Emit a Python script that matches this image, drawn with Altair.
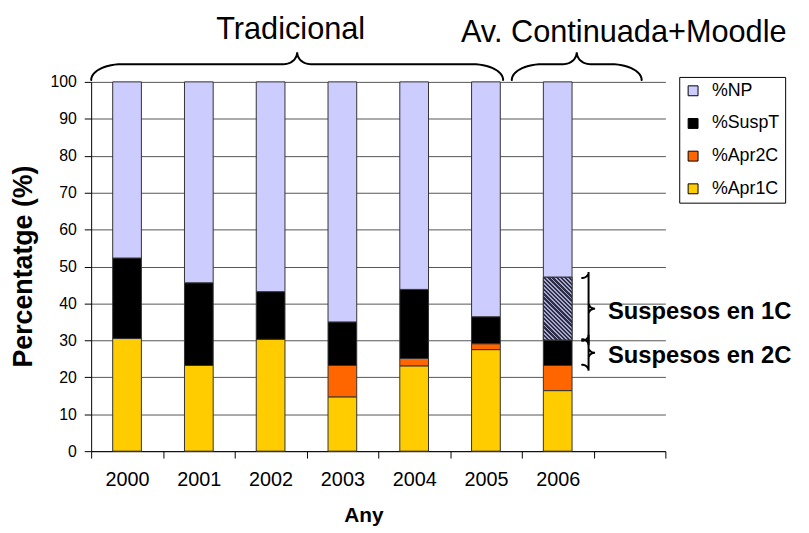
import altair as alt
import numpy as np
import pandas as pd

# ---------------- data ----------------
years = ["2000", "2001", "2002", "2003", "2004", "2005", "2006"]
slots = years + [" "]          # the axis has an empty 8th slot
apr1c = [30.5, 23.2, 30.3, 14.7, 23.1, 27.5, 16.4]
apr2c = [0.0, 0.0, 0.0, 8.5, 2.0, 1.6, 6.8]
suspt = [21.8, 22.4, 12.9, 11.8, 18.7, 7.3, 6.9]
susp1c = [0.0, 0.0, 0.0, 0.0, 0.0, 0.0, 17.0]   # hatched part (2006 only)
np_ = [47.7, 54.4, 56.8, 65.0, 56.2, 63.6, 52.9]

series_names = ["%Apr1C", "%Apr2C", "%SuspT", "Susp1C", "%NP"]
series_vals = [apr1c, apr2c, suspt, susp1c, np_]
legend_order = ["%NP", "%SuspT", "%Apr2C", "%Apr1C"]
colors = {"%NP": "#CCCCFF", "%SuspT": "#000000", "%Apr2C": "#FF6600",
          "%Apr1C": "#FFCC00", "Susp1C": "#44445E"}

rows = []
for k, (name, vals) in enumerate(zip(series_names, series_vals)):
    for y, v in zip(years, vals):
        rows.append({"year": y, "series": name, "value": v, "ord": k})
df = pd.DataFrame(rows)

FONT = "Liberation Sans"
yscale = alt.Scale(domain=[0, 100], nice=False, zero=True)
xband = alt.Scale(domain=slots, paddingInner=0, paddingOuter=0)
uscale = alt.Scale(domain=[0, 8], nice=False, zero=False)

x_axis = alt.Axis(title="Any", tickBand="extent", labelAngle=0,
                  labelFontSize=20, labelColor="#000", labelFont=FONT,
                  labelPadding=12, tickSize=7, tickColor="#000",
                  domainColor="#000", titleFontSize=21,
                  titleFontWeight="bold", titleFont=FONT,
                  titleColor="#000", titleX=275, titleY=65,
                  titleBaseline="middle", grid=False)
y_axis = alt.Axis(title="Percentatge (%)", values=list(range(0, 101, 10)),
                  labelFontSize=16, labelColor="#000", labelFont=FONT,
                  labelPadding=8, tickSize=7, tickColor="#000",
                  domainColor="#000", grid=True, gridColor="#555555",
                  gridWidth=1, titleFontSize=27, titleFontWeight="bold",
                  titleFont=FONT, titleColor="#000", titleX=-68,
                  titleY=186, titleAngle=270, titleBaseline="middle",
                  titleAlign="center")

base = (alt.Chart(df)
        .transform_filter("datum.value > 0")
        .transform_stack(stack="value", groupby=["year"],
                         sort=[alt.SortField("ord", order="ascending")],
                         as_=["y0", "y1"]))

bars = base.mark_bar(width=alt.RelativeBandSize(0.4), stroke="#333333",
                     strokeWidth=1).encode(
    x=alt.X("year:N", scale=xband, sort=slots, axis=x_axis),
    y=alt.Y("y0:Q", scale=yscale, axis=y_axis),
    y2="y1:Q",
    color=alt.Color("series:N",
                    scale=alt.Scale(domain=list(colors.keys()),
                                    range=list(colors.values())),
                    legend=alt.Legend(values=legend_order, title=None,
                                      orient="none", legendX=594, legendY=-5,
                                      strokeColor="#000", fillColor="#fff",
                                      padding=5, rowPadding=15,
                                      symbolType="square", symbolSize=100,
                                      symbolStrokeColor="#000",
                                      symbolStrokeWidth=1, labelFontSize=18,
                                      labelFont=FONT, labelColor="#000",
                                      labelOffset=10)),
)

# hatched overlay for the 2006 "Susp1C" segment
dark, light = "#2E2E48", "#A8A8CC"
period = 0.025
stops = []
t = 0.0
while t < 1.0 - 1e-9:
    m = min(t + 0.55 * period, 1.0)
    e = min(t + period, 1.0)
    stops += [alt.GradientStop(color=dark, offset=round(t, 4)),
              alt.GradientStop(color=dark, offset=round(m, 4)),
              alt.GradientStop(color=light, offset=round(m, 4)),
              alt.GradientStop(color=light, offset=round(e, 4))]
    t += period
ratio = (17.0 * 3.73) / (0.4 * 72.5)
hatch_fill = alt.LinearGradient(gradient="linear", stops=stops,
                                x1=0, y1=1, x2=1, y2=1 - ratio)

hatch = base.transform_filter("datum.series == 'Susp1C'").mark_bar(
    width=alt.RelativeBandSize(0.4), fill=hatch_fill, stroke="#333333",
    strokeWidth=1).encode(
    x=alt.X("year:N", scale=xband, sort=slots, axis=x_axis),
    y=alt.Y("y0:Q", scale=yscale, axis=y_axis),
    y2="y1:Q",
)

# ---------------- braces (annotation shapes) ----------------
def brace(a0, a1, base_, arm, tip, r_end, r_tip, n=14):
    mid = (a0 + a1) / 2
    th = np.linspace(0, np.pi / 2, n)
    pts = [(a0 + r_end * (1 - np.cos(t)), base_ + (arm - base_) * np.sin(t)) for t in th]
    pts += [(mid - r_tip + r_tip * np.sin(t), tip - (tip - arm) * np.cos(t)) for t in th]
    right = [(2 * mid - a, b) for (a, b) in reversed(pts)]
    return pts + right

brace_rows = []
# top braces: spans in slot units
top_spans = [("Tradicional", 0.0, 5.74), ("Av. Continuada+Moodle", 5.86, 7.67)]
for g, a0, a1 in top_spans:
    for k, (u, v) in enumerate(brace(a0, a1, 100.5, 104.8, 108.0, 0.43, 0.19)):
        brace_rows.append({"grp": g, "k": k, "u": u, "v": v})

# side braces for 2006 suspended segments
lo2 = apr1c[6] + apr2c[6]
lo1 = lo2 + suspt[6]
hi1 = lo1 + susp1c[6]
side_spans = [("Suspesos en 1C", lo1, hi1), ("Suspesos en 2C", lo2, lo1)]
for g, b0, b1 in side_spans:
    for k, (v, u) in enumerate(brace(b1 - 0.2, b0 + 0.2, 6.84, 6.93, 7.02, 1.6, 1.5)):
        brace_rows.append({"grp": g, "k": k, "u": u, "v": v})
brace_df = pd.DataFrame(brace_rows)

braces = alt.Chart(brace_df).mark_line(color="#000", strokeWidth=2,
                                       clip=False, strokeCap="round").encode(
    x=alt.X("u:Q", scale=uscale, axis=None),
    y=alt.Y("v:Q", scale=yscale, axis=y_axis),
    detail="grp:N",
    order="k:Q",
)

top_text_df = pd.DataFrame({"label": ["Tradicional", "Av. Continuada+Moodle"],
                            "u": [2.78, 7.42], "v": [113.9, 113.1]})
top_text = alt.Chart(top_text_df).mark_text(
    font=FONT, fontSize=31, color="#000", align="center", baseline="middle",
    clip=False).encode(
    x=alt.X("u:Q", scale=uscale, axis=None),
    y=alt.Y("v:Q", scale=yscale, axis=y_axis),
    text="label:N",
)

side_text_df = pd.DataFrame({"label": ["Suspesos en 1C", "Suspesos en 2C"],
                             "u": [7.2, 7.2],
                             "v": [(lo1 + hi1) / 2 - 1.0, (lo2 + lo1) / 2 - 1.0]})
side_text = alt.Chart(side_text_df).mark_text(
    font=FONT, fontSize=24, fontWeight="bold", color="#000", align="left",
    baseline="middle", clip=False).encode(
    x=alt.X("u:Q", scale=uscale, axis=None),
    y=alt.Y("v:Q", scale=yscale, axis=y_axis),
    text="label:N",
)

chart = alt.layer(alt.layer(bars, hatch), braces, top_text, side_text).resolve_scale(
    x="independent"
).properties(
    width=580, height=373,
    padding={"left": 84, "top": 72, "right": 137, "bottom": 76},
    autosize=alt.AutoSizeParams(type="none"),
    background="white",
).configure_view(stroke=None)

chart.save("out.html", embed_options={"renderer": "svg", "actions": False})
